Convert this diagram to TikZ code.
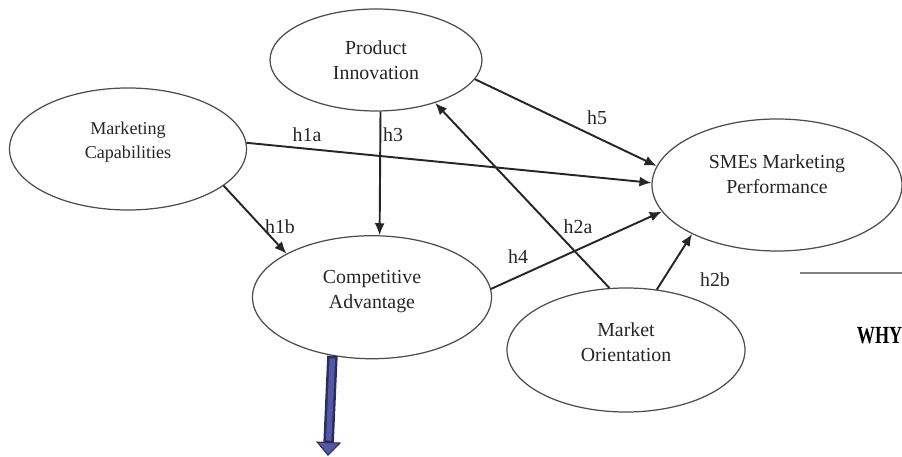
\documentclass[tikz,border=0pt]{standalone}
\usepackage{fontspec}
\setmainfont{Liberation Serif}
\usetikzlibrary{positioning, shapes, arrows.meta}
\definecolor{arrowfill}{RGB}{82,88,162}
\definecolor{arrowline}{RGB}{42,45,100}

\begin{document}
\begin{tikzpicture}[
    construct/.style={draw=black!70, line width=0.7pt, ellipse, inner sep=0pt, align=center, text=black!85, font=\fontsize{11.3}{14.2}\selectfont},
    hlabel/.style={inner sep=0pt, text=black!85, font=\fontsize{11.3}{13}\selectfont},
    hypo/.style={-{Latex[length=2.4mm, width=2mm]}, line width=1.1pt, black!85},
]
    \useasboundingbox (0,0) rectangle (18.04,9.12);

    \node (innovation) at (7.52,7.92) [construct, minimum width=4.24cm, minimum height=2.04cm] {Product\\Innovation};

    \node[below=2.47cm of innovation, xshift=-0.08cm] (advantage) [construct, minimum width=4.78cm, minimum height=2.46cm, text depth=8.7pt] {Competitive\\Advantage};

    \node (capabilities) at (2.56,6.14) [construct, minimum width=4.74cm, minimum height=2.44cm, font=\fontsize{10.3}{13.6}\selectfont, text depth=10.3pt] {Marketing\\Capabilities};

    \node (performance) at (15.54,5.42) [construct, minimum width=5cm, minimum height=2.64cm, text depth=11.9pt] {SMEs Marketing\\Performance};

    \node (orientation) at (12.52,2.12) [construct, minimum width=4.76cm, minimum height=2.48cm, text depth=9.4pt] {Market\\Orientation};

    \draw[hypo] (capabilities.3) -- (performance.179);
    \draw[hypo] (capabilities.-21) -- (advantage.153);
    \draw[hypo] (innovation.-85) -- (advantage.83);
    \draw[hypo] (innovation.-11) -- (performance.171);
    \draw[hypo] (advantage.4) -- (performance.193);
    \draw[hypo] (orientation.105) -- (innovation.-36);
    \draw[hypo] (orientation.63) -- (performance.210);

    \node (h1a) at (6.14,6.42) [hlabel] {h1a};
    \node (h3) at (7.86,6.42) [hlabel] {h3};
    \node (h1b) at (5.6,4.58) [hlabel] {h1b};
    \node (h5) at (11.94,6.76) [hlabel] {h5};
    \node (h2a) at (11.56,4.58) [hlabel] {h2a};
    \node (h4) at (10.36,3.98) [hlabel] {h4};
    \node (h2b) at (14.3,3.52) [hlabel] {h2b};

    % fat arrow below the advantage construct
    \coordinate (arrow end) at (6.56,0.0);
    \draw[line width=0.21cm, arrowline, -{Triangle[length=2.8mm, width=5mm, line width=0.6pt, fill=arrowfill]}] (advantage.236) -- (arrow end);
    \draw[line width=0.11cm, arrowfill, shorten >=3.1mm, shorten <=0.05cm] (advantage.236) -- (arrow end);

    % cut-off rule and heading at the right edge
    \coordinate (rule start) at (16.0,3.66);
    \coordinate (rule end) at (18.1,3.66);
    \draw[line width=1.6pt, black!50] (rule start) -- (rule end);
    \node (why) at (17.13,2.4) [anchor=west, inner sep=0pt, font=\bfseries\fontsize{14}{16}\selectfont] {\scalebox{0.74}[1]{WHY}};
\end{tikzpicture}
\end{document}
